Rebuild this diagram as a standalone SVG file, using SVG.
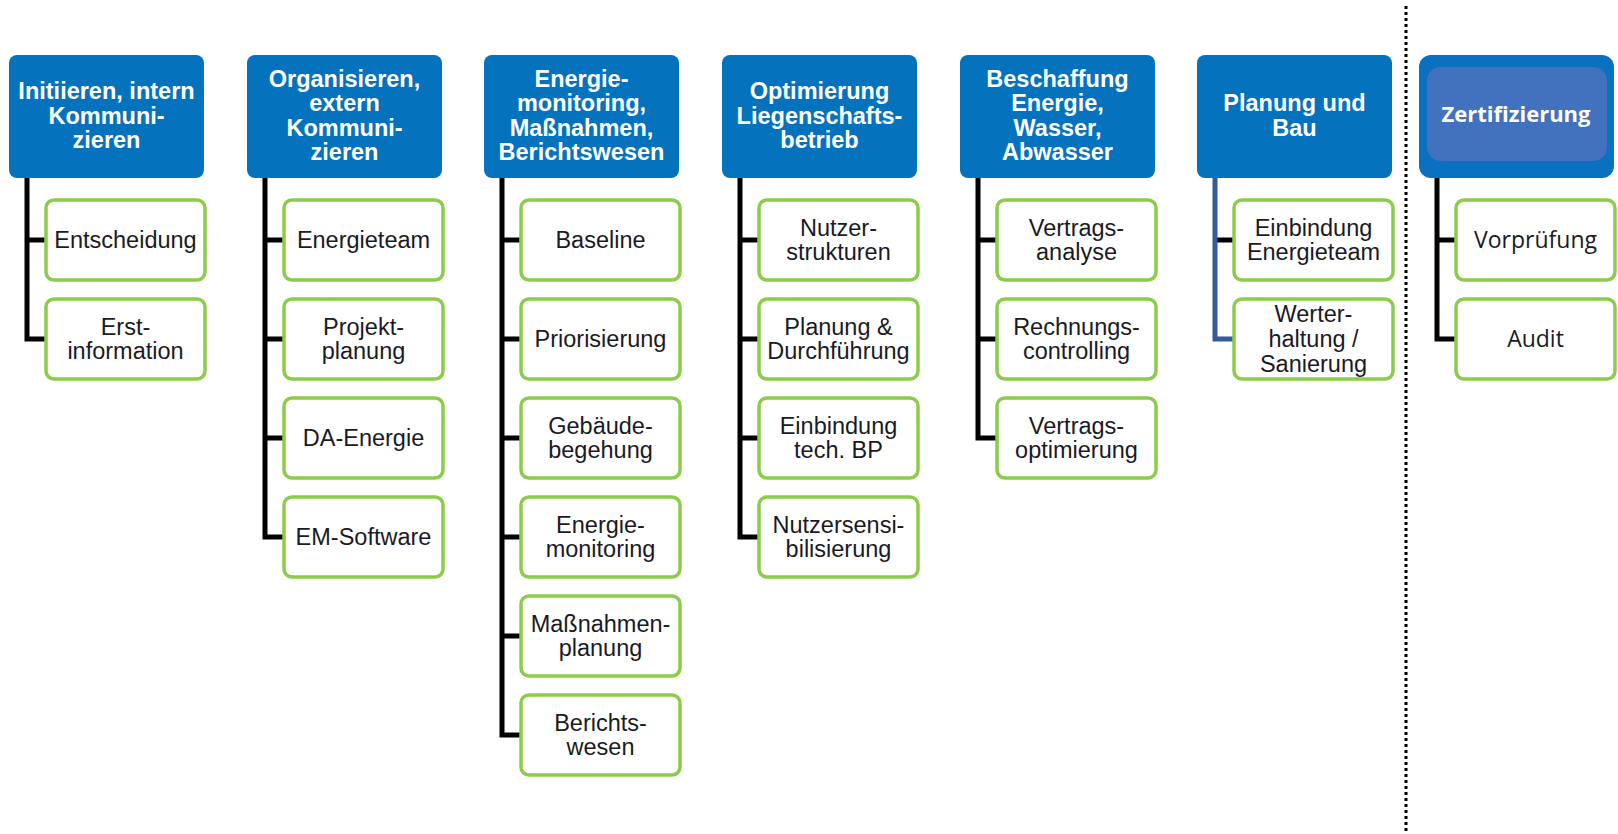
<svg xmlns="http://www.w3.org/2000/svg" width="1618" height="834" viewBox="0 0 1618 834">
<style>
.hd{fill:#0572BD}
.hdt{font-family:"Liberation Sans",Arial,sans-serif;font-weight:bold;font-size:23.5px;fill:#fff;text-anchor:middle}
.ch{fill:#fff;stroke:#8DCB4B;stroke-width:3.5}
.cht{font-family:"Liberation Sans",Arial,sans-serif;font-size:23.5px;fill:#1a1a24;text-anchor:middle}
.os{font-family:"Open Sans","Noto Sans",sans-serif}
.ln{fill:none;stroke:#000;stroke-width:5;stroke-linejoin:miter}
</style>
<rect width="1618" height="834" fill="#fff"/>
<g id="connectors">
<path class="ln" d="M27,178V339H46M27,240H46"/>
<path class="ln" d="M265,178V537H284M265,240H284M265,339H284M265,438H284"/>
<path class="ln" d="M502,178V735H521M502,240H521M502,339H521M502,438H521M502,537H521M502,636H521"/>
<path class="ln" d="M740,178V537H759M740,240H759M740,339H759M740,438H759"/>
<path class="ln" d="M978,178V438H997M978,240H997M978,339H997"/>
<path class="ln" d="M1215,240H1234"/>
<path class="ln" style="stroke:#35599A" d="M1215,178V339H1234"/>
<path class="ln" d="M1437,178V339H1456M1437,240H1456"/>
<line x1="1406" y1="6" x2="1406" y2="834" stroke="#000" stroke-width="3" stroke-dasharray="3 3"/>
</g>
<g id="col1">
<rect class="hd" x="9" y="55" width="195" height="123" rx="8"/>
<text class="hdt" x="106.5" y="99">Initiieren, intern</text>
<text class="hdt" x="106.5" y="123.5">Kommuni-</text>
<text class="hdt" x="106.5" y="148">zieren</text>
</g>
<g id="c1n1"><rect class="ch" x="46" y="200" width="159" height="80" rx="8"/><text class="cht" x="125.5" y="248">Entscheidung</text></g>
<g id="c1n2"><rect class="ch" x="46" y="299" width="159" height="80" rx="8"/><text class="cht" x="125.5" y="335">Erst-</text><text class="cht" x="125.5" y="359">information</text></g>
<g id="col2">
<rect class="hd" x="247" y="55" width="195" height="123" rx="8"/>
<text class="hdt" x="344.5" y="86.5">Organisieren,</text>
<text class="hdt" x="344.5" y="111">extern</text>
<text class="hdt" x="344.5" y="135.5">Kommuni-</text>
<text class="hdt" x="344.5" y="160">zieren</text>
</g>
<g id="c2n1"><rect class="ch" x="284" y="200" width="159" height="80" rx="8"/><text class="cht" x="363.5" y="248">Energieteam</text></g>
<g id="c2n2"><rect class="ch" x="284" y="299" width="159" height="80" rx="8"/><text class="cht" x="363.5" y="335">Projekt-</text><text class="cht" x="363.5" y="359">planung</text></g>
<g id="c2n3"><rect class="ch" x="284" y="398" width="159" height="80" rx="8"/><text class="cht" x="363.5" y="446">DA-Energie</text></g>
<g id="c2n4"><rect class="ch" x="284" y="497" width="159" height="80" rx="8"/><text class="cht" x="363.5" y="545">EM-Software</text></g>
<g id="col3">
<rect class="hd" x="484" y="55" width="195" height="123" rx="8"/>
<text class="hdt" x="581.5" y="86.5">Energie-</text>
<text class="hdt" x="581.5" y="111">monitoring,</text>
<text class="hdt" x="581.5" y="135.5">Maßnahmen,</text>
<text class="hdt" x="581.5" y="160">Berichtswesen</text>
</g>
<g id="c3n1"><rect class="ch" x="521" y="200" width="159" height="80" rx="8"/><text class="cht" x="600.5" y="248">Baseline</text></g>
<g id="c3n2"><rect class="ch" x="521" y="299" width="159" height="80" rx="8"/><text class="cht" x="600.5" y="347">Priorisierung</text></g>
<g id="c3n3"><rect class="ch" x="521" y="398" width="159" height="80" rx="8"/><text class="cht" x="600.5" y="434">Gebäude-</text><text class="cht" x="600.5" y="458">begehung</text></g>
<g id="c3n4"><rect class="ch" x="521" y="497" width="159" height="80" rx="8"/><text class="cht" x="600.5" y="533">Energie-</text><text class="cht" x="600.5" y="557">monitoring</text></g>
<g id="c3n5"><rect class="ch" x="521" y="596" width="159" height="80" rx="8"/><text class="cht" x="600.5" y="632">Maßnahmen-</text><text class="cht" x="600.5" y="656">planung</text></g>
<g id="c3n6"><rect class="ch" x="521" y="695" width="159" height="80" rx="8"/><text class="cht" x="600.5" y="731">Berichts-</text><text class="cht" x="600.5" y="755">wesen</text></g>
<g id="col4">
<rect class="hd" x="722" y="55" width="195" height="123" rx="8"/>
<text class="hdt" x="819.5" y="99">Optimierung</text>
<text class="hdt" x="819.5" y="123.5">Liegenschafts-</text>
<text class="hdt" x="819.5" y="148">betrieb</text>
</g>
<g id="c4n1"><rect class="ch" x="759" y="200" width="159" height="80" rx="8"/><text class="cht" x="838.5" y="236">Nutzer-</text><text class="cht" x="838.5" y="260">strukturen</text></g>
<g id="c4n2"><rect class="ch" x="759" y="299" width="159" height="80" rx="8"/><text class="cht" x="838.5" y="335">Planung &amp;</text><text class="cht" x="838.5" y="359">Durchführung</text></g>
<g id="c4n3"><rect class="ch" x="759" y="398" width="159" height="80" rx="8"/><text class="cht" x="838.5" y="434">Einbindung</text><text class="cht" x="838.5" y="458">tech. BP</text></g>
<g id="c4n4"><rect class="ch" x="759" y="497" width="159" height="80" rx="8"/><text class="cht" x="838.5" y="533">Nutzersensi-</text><text class="cht" x="838.5" y="557">bilisierung</text></g>
<g id="col5">
<rect class="hd" x="960" y="55" width="195" height="123" rx="8"/>
<text class="hdt" x="1057.5" y="86.5">Beschaffung</text>
<text class="hdt" x="1057.5" y="111">Energie,</text>
<text class="hdt" x="1057.5" y="135.5">Wasser,</text>
<text class="hdt" x="1057.5" y="160">Abwasser</text>
</g>
<g id="c5n1"><rect class="ch" x="997" y="200" width="159" height="80" rx="8"/><text class="cht" x="1076.5" y="236">Vertrags-</text><text class="cht" x="1076.5" y="260">analyse</text></g>
<g id="c5n2"><rect class="ch" x="997" y="299" width="159" height="80" rx="8"/><text class="cht" x="1076.5" y="335">Rechnungs-</text><text class="cht" x="1076.5" y="359">controlling</text></g>
<g id="c5n3"><rect class="ch" x="997" y="398" width="159" height="80" rx="8"/><text class="cht" x="1076.5" y="434">Vertrags-</text><text class="cht" x="1076.5" y="458">optimierung</text></g>
<g id="col6">
<rect class="hd" x="1197" y="55" width="195" height="123" rx="8"/>
<text class="hdt" x="1294.5" y="111">Planung und</text>
<text class="hdt" x="1294.5" y="135.5">Bau</text>
</g>
<g id="c6n1"><rect class="ch" x="1234" y="200" width="159" height="80" rx="8"/><text class="cht" x="1313.5" y="236">Einbindung</text><text class="cht" x="1313.5" y="260">Energieteam</text></g>
<g id="c6n2"><rect class="ch" x="1234" y="299" width="159" height="80" rx="8"/><text class="cht" x="1313.5" y="322">Werter-</text><text class="cht" x="1313.5" y="347">haltung /</text><text class="cht" x="1313.5" y="372">Sanierung</text></g>
<g id="col7">
<rect x="1419" y="55" width="195" height="123" rx="12" fill="#0A70C0"/>
<rect x="1427" y="67" width="180" height="94" rx="14" fill="#4272BE"/>
<text class="os" x="1516" y="122" font-size="22" font-weight="bold" fill="#fff" text-anchor="middle">Zertifizierung</text>
</g>
<g id="c7n1"><rect class="ch" x="1456" y="200" width="159" height="80" rx="8"/><text class="cht os" x="1535.5" y="248" style="font-size:23px">Vorprüfung</text></g>
<g id="c7n2"><rect class="ch" x="1456" y="299" width="159" height="80" rx="8"/><text class="cht os" x="1535.5" y="347" style="font-size:23px">Audit</text></g>
</svg>
